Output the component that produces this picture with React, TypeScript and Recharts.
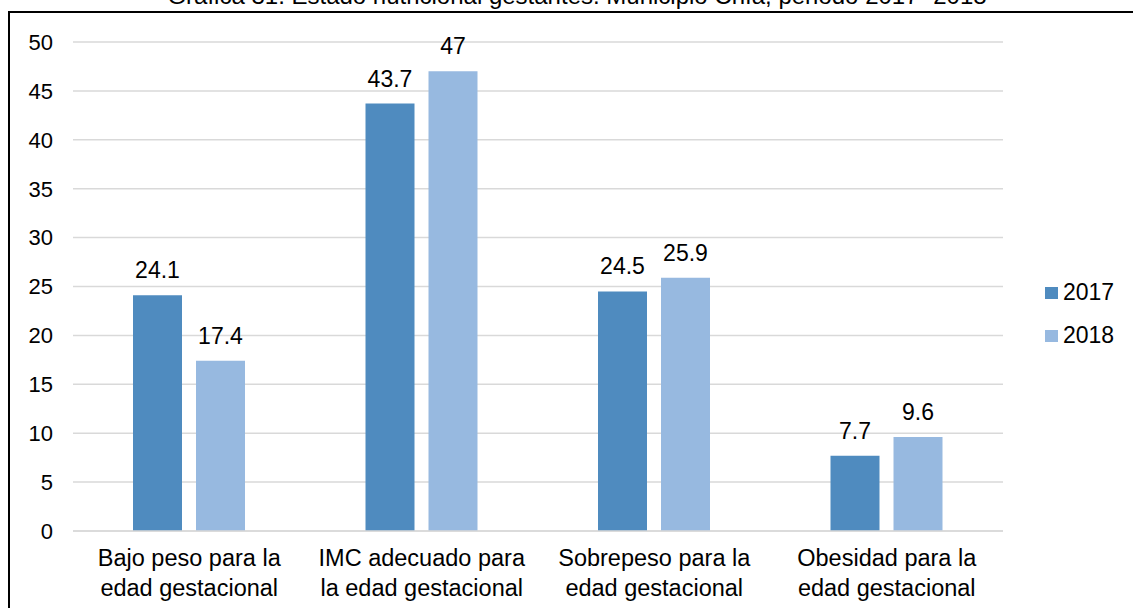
import React from 'react';
import { BarChart, Bar, XAxis, YAxis, CartesianGrid, LabelList } from 'recharts';

const categories = [
  ['Bajo peso para la', 'edad gestacional'],
  ['IMC adecuado para', 'la edad gestacional'],
  ['Sobrepeso para la', 'edad gestacional'],
  ['Obesidad para la', 'edad gestacional'],
];
const values2017 = [24.1, 43.7, 24.5, 7.7];
const values2018 = [17.4, 47, 25.9, 9.6];
const yTicks = [0, 5, 10, 15, 20, 25, 30, 35, 40, 45, 50];
const seriesNames = ['2017', '2018'];

const title = 'Gráfica 31. Estado nutricional gestantes. Municipio Chía, periodo 2017- 2018';

const data = categories.map((c, i) => ({
  name: c.join('|'),
  y2017: values2017[i],
  y2018: values2018[i],
}));

const FONT = '"Liberation Sans", Arial, sans-serif';
const DARK = '#4F8BBF';
const LIGHT = '#97B9E0';

const CategoryTick: React.FC<any> = ({ x, y, payload }) => {
  const lines = String(payload.value).split('|');
  return (
    <text x={x} y={y} textAnchor="middle" fontSize={23.5} fontFamily={FONT} fill="#000">
      <tspan x={x} dy={35}>{lines[0]}</tspan>
      <tspan x={x} dy={30}>{lines[1]}</tspan>
    </text>
  );
};

export default function App() {
  const colors = [DARK, LIGHT];
  return (
    <div style={{ position: 'fixed', left: 0, top: 0, width: 1133, height: 608, overflow: 'hidden', background: '#fff' }}>
      <svg width={1133} height={12} style={{ position: 'absolute', left: 0, top: 0 }}>
        <text x={577} y={4} textAnchor="middle" fontFamily={FONT} fontSize={24} fill="#000">
          {title}
        </text>
      </svg>
      <div
        style={{
          position: 'absolute',
          left: 8,
          top: 11,
          width: 1200,
          height: 700,
          borderTop: '2px solid #000',
          borderLeft: '2px solid #000',
        }}
      />
      <div style={{ position: 'absolute', left: 0, top: 0 }}>
        <BarChart
          width={1133}
          height={608}
          data={data}
          margin={{ top: 42, right: 130, left: 13, bottom: 0 }}
          barGap={14}
          barSize={49}
        >
          <CartesianGrid vertical={false} stroke="#D9D9D9" strokeWidth={1.5} />
          <XAxis
            dataKey="name"
            height={77}
            tickLine={false}
            tickSize={0}
            tickMargin={0}
            axisLine={{ stroke: '#D9D9D9', strokeWidth: 1.5 }}
            tick={<CategoryTick />}
            interval={0}
          />
          <YAxis
            width={60}
            domain={[0, 50]}
            ticks={yTicks}
            axisLine={false}
            tickLine={false}
            tickSize={0}
            tickMargin={20}
            tick={{ fontSize: 22, fontFamily: FONT, fill: '#000' }}
          />
          <Bar dataKey="y2017" name="2017" fill={DARK} isAnimationActive={false}>
            <LabelList dataKey="y2017" position="top" offset={17} fontSize={23} fontFamily={FONT} fill="#000" />
          </Bar>
          <Bar dataKey="y2018" name="2018" fill={LIGHT} isAnimationActive={false}>
            <LabelList dataKey="y2018" position="top" offset={17} fontSize={23} fontFamily={FONT} fill="#000" />
          </Bar>
        </BarChart>
      </div>
      <div style={{ position: 'absolute', left: 1045, top: 271, fontFamily: FONT, fontSize: 23, color: '#000' }}>
        {seriesNames.map((label, i) => (
          <div key={label} style={{ display: 'flex', alignItems: 'center', height: 43 }}>
            <span style={{ width: 13, height: 12, background: colors[i], marginRight: 5, display: 'inline-block' }} />
            <span>{label}</span>
          </div>
        ))}
      </div>
    </div>
  );
}
